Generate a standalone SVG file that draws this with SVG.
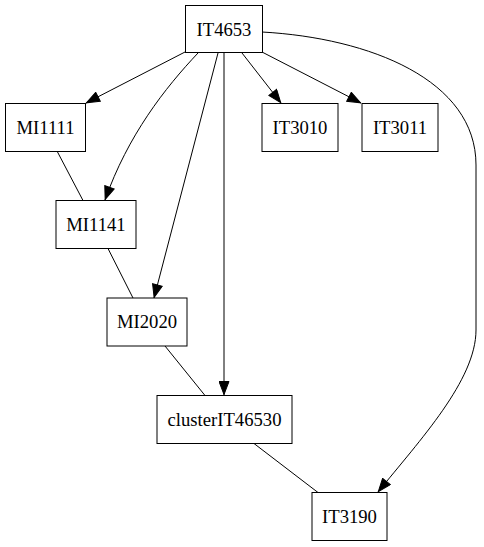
<svg xmlns="http://www.w3.org/2000/svg" width="484" height="547" viewBox="0 0 484 547">
  <style>
    .node rect { fill: #ffffff; stroke: #000000; stroke-width: 1; }
    .node text { font-family: "Liberation Serif", "Times New Roman", serif; font-size: 18.67px; fill: #000000; text-anchor: middle; }
    .edge { fill: none; stroke: #000000; stroke-width: 1; }
    .arrow { marker-end: url(#head); }
  </style>
  <defs>
    <marker id="head" markerUnits="userSpaceOnUse" markerWidth="15" markerHeight="11" viewBox="0 0 14 11" refX="14" refY="5.5" orient="auto">
      <path d="M0.5,0.5 L13.5,5.5 L0.5,10.5 Z" fill="#000000" stroke="#000000" stroke-width="1"/>
    </marker>
  </defs>

  <rect width="484" height="547" fill="#ffffff"/>

  <g id="connectors">
    <!-- directed edges from IT4653 -->
    <path class="edge arrow" d="M185,52 L86,103"/>
    <path class="edge arrow" d="M198,53 C165,88 128,135 105,200"/>
    <path class="edge arrow" d="M218,53 L154,298"/>
    <path class="edge arrow" d="M224,53 L224,395"/>
    <path class="edge arrow" d="M242,53 L281,103"/>
    <path class="edge arrow" d="M262,52 L361,103"/>
    <path class="edge arrow" d="M262,32 C370,38 476,80 476,165 L476,330 C476,380 420,440 378,492"/>
    <!-- undirected links -->
    <path class="edge" d="M57,151 L83,200.5"/>
    <path class="edge" d="M108,248.5 L133,298"/>
    <path class="edge" d="M165,346 L205,395.5"/>
    <path class="edge" d="M254,443.5 L318,492.5"/>
  </g>

  <g id="IT4653" class="node">
    <rect x="185.5" y="5.5" width="77" height="47"/>
    <text x="224" y="35.5">IT4653</text>
  </g>
  <g id="MI1111" class="node">
    <rect x="5.5" y="103.5" width="80" height="48"/>
    <text x="45.5" y="133.5">MI1111</text>
  </g>
  <g id="MI1141" class="node">
    <rect x="56" y="200.5" width="80" height="48"/>
    <text x="96" y="230.5">MI1141</text>
  </g>
  <g id="IT3010" class="node">
    <rect x="262" y="103.5" width="76" height="48"/>
    <text x="300" y="133.5">IT3010</text>
  </g>
  <g id="IT3011" class="node">
    <rect x="362" y="103.5" width="76" height="48"/>
    <text x="400" y="133.5">IT3011</text>
  </g>
  <g id="MI2020" class="node">
    <rect x="107" y="298" width="80" height="48"/>
    <text x="147" y="328">MI2020</text>
  </g>
  <g id="clusterIT46530" class="node">
    <rect x="157" y="395.5" width="135" height="48"/>
    <text x="224.5" y="425.5">clusterIT46530</text>
  </g>
  <g id="IT3190" class="node">
    <rect x="312" y="492.5" width="75" height="48"/>
    <text x="349.5" y="522.5">IT3190</text>
  </g>
</svg>
